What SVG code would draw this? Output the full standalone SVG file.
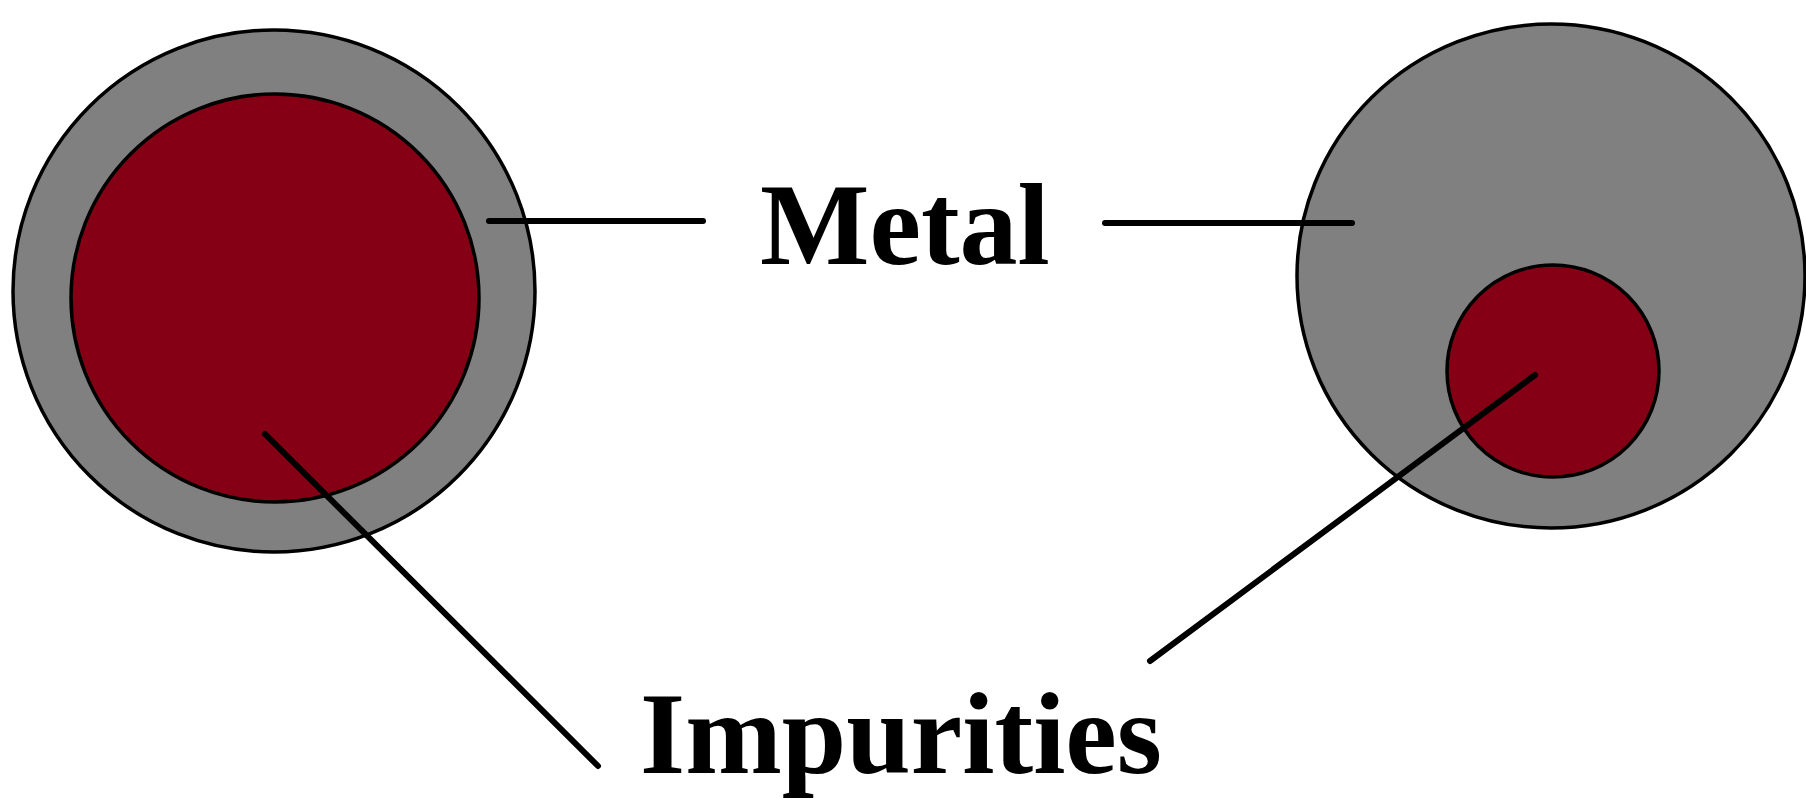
<svg xmlns="http://www.w3.org/2000/svg" width="1806" height="798" viewBox="0 0 1806 798">
<style>
.metal{fill:#808080;stroke:#000;stroke-width:3.5}
.imp{fill:#850014;stroke:#000;stroke-width:3.5}
.lead{stroke:#000;stroke-width:6;stroke-linecap:round;fill:none}
.lbl{font-family:"Liberation Serif",serif;font-weight:700;font-size:116px;fill:#000}
</style>
<rect width="1806" height="798" fill="#fff"/>
<g id="particle-left">
<circle class="metal" cx="274" cy="291" r="261"/>
<circle class="imp" cx="275" cy="298" r="204"/>
</g>
<g id="particle-right">
<ellipse class="metal" cx="1551" cy="276" rx="254" ry="252"/>
<circle class="imp" cx="1553" cy="371" r="106"/>
</g>
<g id="connectors">
<line class="lead" x1="489" y1="221" x2="703" y2="221"/>
<line class="lead" x1="1105" y1="223" x2="1352" y2="223"/>
<line class="lead" x1="265" y1="434" x2="598" y2="766"/>
<line class="lead" x1="1535" y1="375" x2="1150" y2="661"/>
</g>
<g id="label-metal"><text class="lbl" x="760" y="264">Metal</text></g>
<g id="label-impurities"><text class="lbl" x="640" y="773">Impurities</text></g>
</svg>
